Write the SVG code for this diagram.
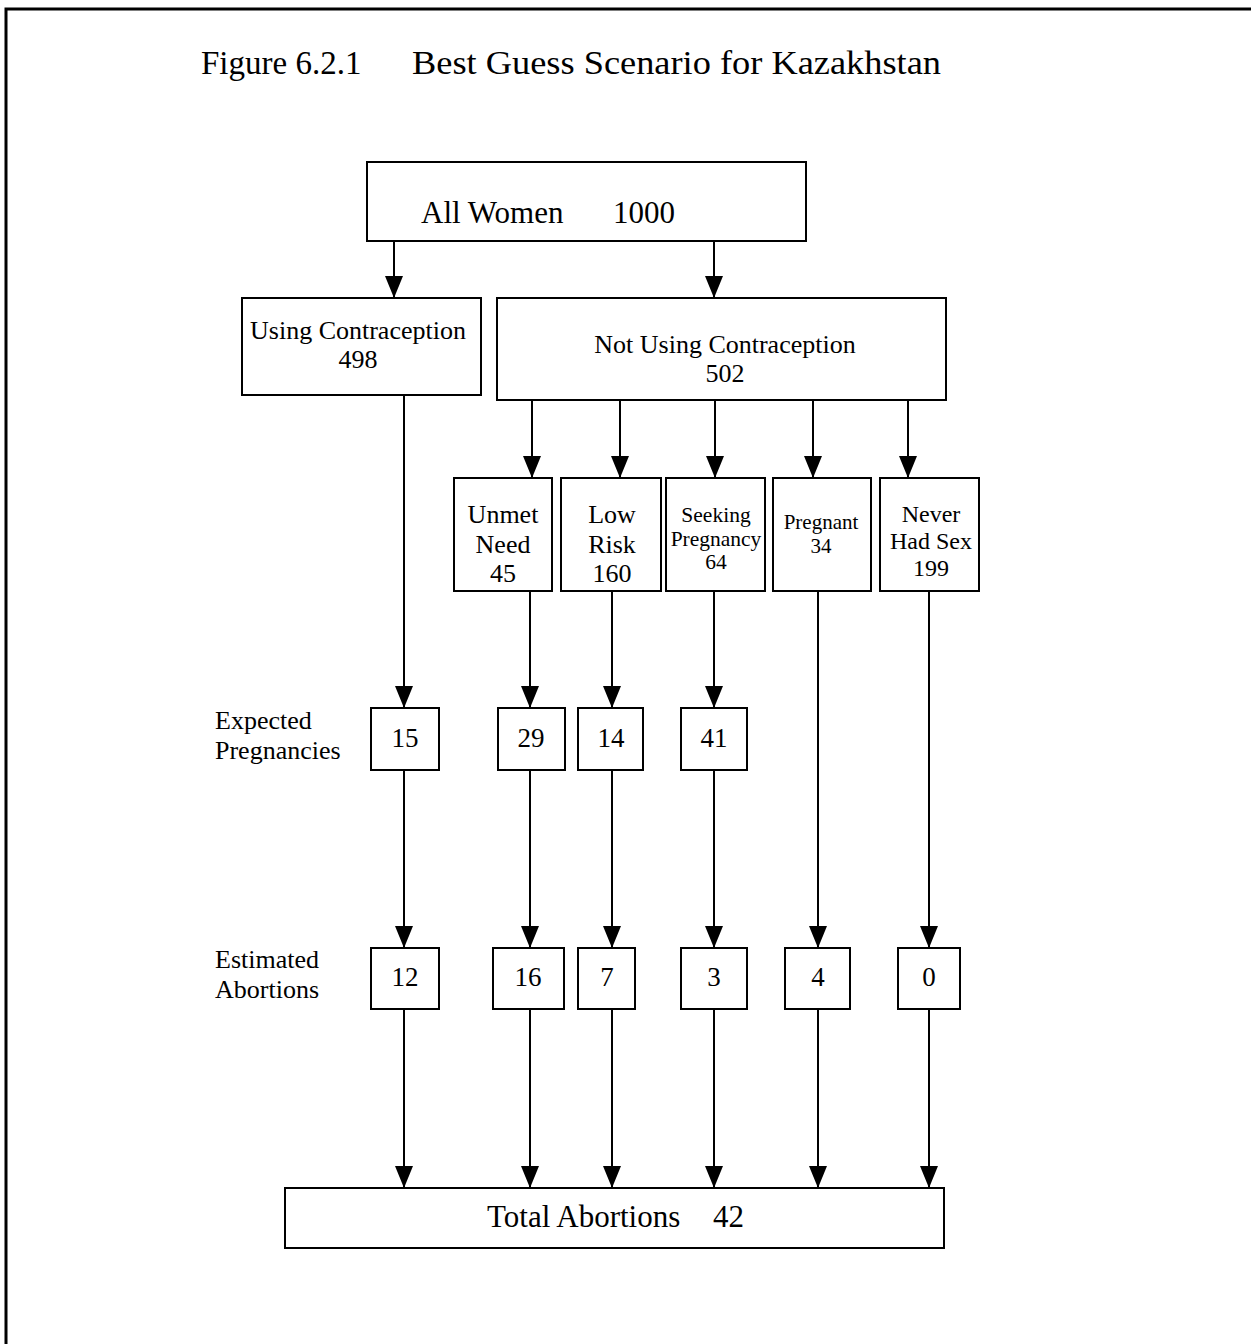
<svg xmlns="http://www.w3.org/2000/svg" width="1251" height="1344" viewBox="0 0 1251 1344">
<defs>
<marker id="ah" markerWidth="22" markerHeight="18" refX="22" refY="9" orient="auto" markerUnits="userSpaceOnUse" viewBox="0 0 22 18">
<path d="M0,0 L22,9 L0,18 Z" fill="#000"/>
</marker>
<style>
text{font-family:"Liberation Serif","Times New Roman",serif;fill:#000;text-anchor:middle}
.l{text-anchor:start}
.box{fill:#fff;stroke:#000;stroke-width:2}
.c line{stroke:#000;stroke-width:2;marker-end:url(#ah)}
.f26{font-size:26px}
.f31{font-size:31px}
.n{font-size:27px}
</style>
</defs>
<rect width="1251" height="1344" fill="#fff"/>
<path d="M6,1344 L6,9 L1251,9" fill="none" stroke="#000" stroke-width="3"/>
<text class="l" x="201" y="74" font-size="33">Figure 6.2.1<tspan x="412" textLength="529" lengthAdjust="spacingAndGlyphs">Best Guess Scenario for Kazakhstan</tspan></text>

<g id="connectors" class="c">
<line x1="394" y1="241" x2="394" y2="298"/>
<line x1="714" y1="241" x2="714" y2="298"/>
<line x1="404" y1="395" x2="404" y2="708"/>
<line x1="532" y1="400" x2="532" y2="478"/>
<line x1="620" y1="400" x2="620" y2="478"/>
<line x1="715" y1="400" x2="715" y2="478"/>
<line x1="813" y1="400" x2="813" y2="478"/>
<line x1="908" y1="400" x2="908" y2="478"/>
<line x1="530" y1="591" x2="530" y2="708"/>
<line x1="612" y1="591" x2="612" y2="708"/>
<line x1="714" y1="591" x2="714" y2="708"/>
<line x1="818" y1="591" x2="818" y2="948"/>
<line x1="929" y1="591" x2="929" y2="948"/>
<line x1="404" y1="770" x2="404" y2="948"/>
<line x1="530" y1="770" x2="530" y2="948"/>
<line x1="612" y1="770" x2="612" y2="948"/>
<line x1="714" y1="770" x2="714" y2="948"/>
<line x1="404" y1="1009" x2="404" y2="1188"/>
<line x1="530" y1="1009" x2="530" y2="1188"/>
<line x1="612" y1="1009" x2="612" y2="1188"/>
<line x1="714" y1="1009" x2="714" y2="1188"/>
<line x1="818" y1="1009" x2="818" y2="1188"/>
<line x1="929" y1="1009" x2="929" y2="1188"/>
</g>

<g id="all-women">
<rect class="box" x="367" y="162" width="439" height="79"/>
<text class="l f31" x="421" y="223">All Women</text>
<text class="l f31" x="613" y="223">1000</text>
</g>
<g id="using">
<rect class="box" x="242" y="298" width="239" height="97"/>
<text class="f26" x="358" y="339">Using Contraception</text>
<text class="f26" x="358" y="368">498</text>
</g>
<g id="not-using">
<rect class="box" x="497" y="298" width="449" height="102"/>
<text class="f26" x="725" y="353">Not Using Contraception</text>
<text class="f26" x="725" y="382">502</text>
</g>
<g id="unmet">
<rect class="box" x="454" y="478" width="98" height="113"/>
<text class="f26" x="503" y="523">Unmet</text>
<text class="f26" x="503" y="553">Need</text>
<text class="f26" x="503" y="582">45</text>
</g>
<g id="low-risk">
<rect class="box" x="561" y="478" width="100" height="113"/>
<text class="f26" x="612" y="523">Low</text>
<text class="f26" x="612" y="553">Risk</text>
<text class="f26" x="612" y="582">160</text>
</g>
<g id="seeking">
<rect class="box" x="666" y="478" width="99" height="113"/>
<text x="716" y="522" font-size="21.5">Seeking</text>
<text x="716" y="546" font-size="21.5">Pregnancy</text>
<text x="716" y="569" font-size="21.5">64</text>
</g>
<g id="pregnant">
<rect class="box" x="773" y="478" width="98" height="113"/>
<text x="821" y="529" font-size="21">Pregnant</text>
<text x="821" y="553" font-size="21">34</text>
</g>
<g id="never">
<rect class="box" x="880" y="478" width="99" height="113"/>
<text x="931" y="522" font-size="24">Never</text>
<text x="931" y="549" font-size="24">Had Sex</text>
<text x="931" y="576" font-size="24">199</text>
</g>

<g id="label-expected">
<text class="l f26" x="215" y="729">Expected</text>
<text class="l f26" x="215" y="759">Pregnancies</text>
</g>
<g id="label-estimated">
<text class="l f26" x="215" y="968">Estimated</text>
<text class="l f26" x="215" y="998">Abortions</text>
</g>

<g id="ep-15"><rect class="box" x="371" y="708" width="68" height="62"/><text class="n" x="405" y="747">15</text></g>
<g id="ep-29"><rect class="box" x="498" y="708" width="67" height="62"/><text class="n" x="531" y="747">29</text></g>
<g id="ep-14"><rect class="box" x="578" y="708" width="65" height="62"/><text class="n" x="611" y="747">14</text></g>
<g id="ep-41"><rect class="box" x="681" y="708" width="66" height="62"/><text class="n" x="714" y="747">41</text></g>

<g id="ea-12"><rect class="box" x="371" y="948" width="68" height="61"/><text class="n" x="405" y="986">12</text></g>
<g id="ea-16"><rect class="box" x="493" y="948" width="71" height="61"/><text class="n" x="528" y="986">16</text></g>
<g id="ea-7"><rect class="box" x="578" y="948" width="57" height="61"/><text class="n" x="607" y="986">7</text></g>
<g id="ea-3"><rect class="box" x="681" y="948" width="66" height="61"/><text class="n" x="714" y="986">3</text></g>
<g id="ea-4"><rect class="box" x="785" y="948" width="65" height="61"/><text class="n" x="818" y="986">4</text></g>
<g id="ea-0"><rect class="box" x="898" y="948" width="62" height="61"/><text class="n" x="929" y="986">0</text></g>

<g id="total">
<rect class="box" x="285" y="1188" width="659" height="60"/>
<text class="l f31" x="487" y="1227">Total Abortions</text>
<text class="l f31" x="713" y="1227">42</text>
</g>
</svg>
